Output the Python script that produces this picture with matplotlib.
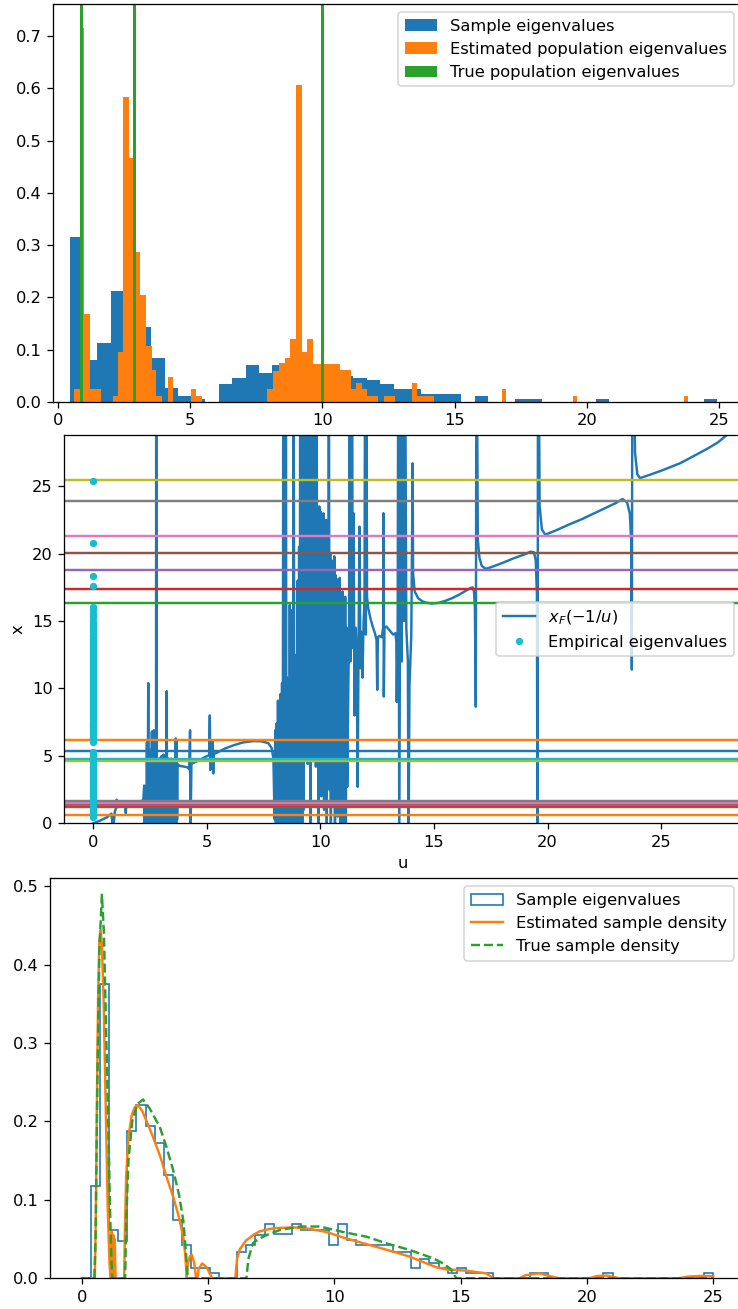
import numpy as np
import matplotlib.pyplot as plt

# ---------------- top: population eigenvalue histograms ----------------
# sample eigenvalues, 48 bins between 0.477 and 24.92 (density heights)
sample_edges = np.linspace(0.477, 24.92, 49)
sample_heights = [0.315, 0.080, 0.113, 0.213, 0.19, 0.143, 0.0835, 0.026, 0.0115, 0.0057,
                  0.0, 0.0344, 0.045, 0.070, 0.0555, 0.070, 0.065, 0.068, 0.070, 0.063,
                  0.050, 0.046, 0.0415, 0.034, 0.0255, 0.0255, 0.016, 0.016, 0.016, 0.0,
                  0.0115, 0.0, 0.0, 0.0057, 0.0057, 0.0, 0.0, 0.0, 0.0, 0.0057,
                  0.0, 0.0, 0.0, 0.0, 0.0, 0.0, 0.0, 0.0057]

# estimated population eigenvalues (bin edges)
est_edges = [0.616, 0.843, 1.006, 1.22, 1.64, 2.10, 2.27, 2.48, 2.70, 2.90,
             3.10, 3.32, 3.55, 3.72, 3.95, 4.18, 4.35, 5.03, 5.21, 5.44,
             7.92, 8.13, 8.35, 8.57, 8.78, 9.00, 9.22, 9.41, 9.64, 10.67,
             11.08, 11.26, 11.50, 11.70, 12.12, 12.33, 12.75, 13.38, 13.59, 14.22,
             16.78, 16.93, 19.49, 19.64, 23.68, 23.83]
est_heights = [0.0255, 0.715, 0.168, 0.0255, 0.0, 0.0115, 0.096, 0.584, 0.467, 0.2875,
               0.204, 0.108, 0.062, 0.0115, 0.0, 0.048, 0.0, 0.0255, 0.0115, 0.0,
               0.025, 0.060, 0.074, 0.0835, 0.120, 0.607, 0.0956, 0.120, 0.0733, 0.061,
               0.025, 0.037, 0.0255, 0.0115, 0.0, 0.0115, 0.0, 0.0363, 0.0115, 0.0,
               0.0255, 0.0, 0.0115, 0.0, 0.0115]

true_pop = [0.9, 2.9, 10.0]

# ---------------- middle: x_F(-1/u) ----------------
xf_u_a = [0.0, 0.3, 0.6, 0.8, 0.84, 0.87, 0.9, 0.95, 1.0, 1.03, 1.05, 1.1, 1.2, 1.3, 1.4,
          1.43, 1.46, 1.6, 1.8, 2.0, 2.2]
xf_x_a = [0.0, 0.2, 0.45, 0.72, 0.0, 0.6, 0.0, 0.9, 1.1, 1.75, 1.2, 1.35, 1.45, 1.5, 1.55,
          0.75, 1.55, 1.6, 1.62, 1.6, 1.7]
xf_u_b = [2.24, 2.26, 2.28, 2.30, 2.32, 2.34, 2.36, 2.38, 2.40, 2.42,
          2.44, 2.46, 2.48, 2.50, 2.52, 2.54, 2.56, 2.58, 2.60, 2.62,
          2.64, 2.66, 2.68, 2.70, 2.72, 2.74, 2.76, 2.77, 2.79, 2.81,
          2.83, 2.85, 2.87, 2.89, 2.91, 2.93, 2.95, 2.97, 2.99, 3.01,
          3.03, 3.05, 3.07, 3.09, 3.11, 3.13, 3.15, 3.17, 3.19, 3.21,
          3.23, 3.25, 3.27, 3.29, 3.31, 3.33, 3.35, 3.37, 3.39, 3.41,
          3.43, 3.45, 3.47, 3.49, 3.51, 3.53, 3.55, 3.57, 3.59, 3.61,
          3.63, 3.65, 3.67, 3.69, 3.71, 3.74, 3.77, 3.80]
xf_x_b = [2.8, 0.0, 2.2, 0.0, 2.5, 0.2, 6.0, 0.0, 3.5, 10.4,
          0.0, 3.2, 0.0, 4.0, 0.3, 5.5, 0.0, 6.8, 0.2, 5.0,
          0.0, 6.9, 0.4, 4.6, 0.0, 5.0, -5.0, 40.0, 0.0, 4.5,
          0.3, 4.8, 0.0, 3.8, 0.2, 4.6, 0.0, 4.9, 0.3, 5.0,
          0.0, 4.3, 0.4, 5.1, 0.0, 4.6, 0.2, 4.4, 0.0, 4.7,
          9.8, 0.0, 3.9, 0.2, 4.8, 0.0, 4.5, 0.3, 4.6, 0.0,
          4.8, 0.2, 4.2, 0.0, 4.7, 0.3, 4.5, 0.0, 4.4, 0.2,
          6.3, 0.0, 6.1, 0.3, 4.4, 4.3, 4.3, 4.25]
xf_u_c = [3.85, 4.0, 4.15, 4.22, 4.26, 4.28, 4.32, 4.5, 4.7, 4.9, 5.1, 5.13, 5.15, 5.2,
          5.26, 5.28, 5.3, 5.4, 5.8, 6.2, 6.6, 7.05, 7.4, 7.7, 7.85, 7.93]
xf_x_c = [4.25, 4.2, 4.15, 4.0, 6.9, -1.0, 4.4, 4.55, 4.7, 4.9, 5.05, 8.0, 3.95, 5.1,
          6.06, 3.7, 5.15, 5.2, 5.55, 5.8, 6.0, 6.1, 6.08, 5.95, 5.6, 4.8]
xf_u_d = [7.98, 8.01, 8.04, 8.07, 8.10, 8.13, 8.16, 8.19, 8.22, 8.25,
          8.28, 8.31, 8.34, 8.37, 8.39, 8.42, 8.45, 8.48, 8.50, 8.53,
          8.56, 8.59, 8.62, 8.65, 8.68, 8.71, 8.74, 8.77, 8.80, 8.82,
          8.85, 8.88, 8.91, 8.94, 8.97, 9.00, 9.03, 9.06, 9.09, 9.11,
          9.14, 9.17, 9.20, 9.23, 9.26, 9.29, 9.32, 9.35, 9.38, 9.41,
          9.44, 9.47, 9.50, 9.53, 9.56, 9.59, 9.62, 9.65, 9.68, 9.71,
          9.74, 9.77, 9.80, 9.83, 9.86, 9.89, 9.92, 9.95, 9.98, 10.01,
          10.04, 10.07, 10.10, 10.13, 10.16, 10.19, 10.22, 10.25, 10.28, 10.31,
          10.34, 10.37, 10.40, 10.43, 10.46, 10.49, 10.52, 10.55, 10.58, 10.61,
          10.64, 10.67, 10.70, 10.73, 10.76, 10.79, 10.82, 10.85, 10.88, 10.91,
          10.94, 10.97, 11.00, 11.03, 11.06, 11.09, 11.12, 11.15, 11.18]
xf_x_d = [0.3, 6.9, 0.0, 7.4, 0.5, 9.1, 0.0, 8.6, 0.2, 9.6,
          0.0, 10.4, 0.4, 40.0, 0.0, 10.7, 0.3, 40.0, 0.0, 10.8,
          0.2, 10.6, 0.0, 16.2, 0.3, 15.8, 0.0, 10.9, 0.5, 40.0,
          0.0, 11.0, 0.2, 12.5, 0.0, 18.0, 0.4, 20.5, 0.0, 40.0,
          0.3, 24.7, 0.0, 40.0, 1.0, 40.0, 4.8, 25.0, 5.5, 40.0,
          4.4, 40.0, 6.2, 24.6, 0.0, 40.0, 5.0, 40.0, 4.6, 24.0,
          6.0, 40.0, 4.2, 40.0, 5.5, 22.8, 0.0, 23.5, 3.8, 23.1,
          2.0, 22.0, 4.5, 23.0, 1.0, 21.7, 3.5, 22.5, 0.0, 21.0,
          4.0, 40.0, 2.5, 20.0, 0.0, 19.5, 3.0, 18.5, 1.5, 19.8,
          0.0, 18.4, 3.2, 18.1, 0.5, 17.0, 2.8, 18.2, 0.0, 16.5,
          3.0, 17.2, 0.0, 15.8, 2.5, 16.8, 0.0, 14.5, 2.7]
xf_u_e = [11.22, 11.26, 11.29, 11.32, 11.36, 11.39, 11.42, 11.46, 11.5, 11.55,
          11.6, 11.64, 11.68, 11.72, 11.76, 11.8, 11.85, 11.9, 11.94, 11.97,
          12.0, 12.02, 12.05, 12.1, 12.2, 12.3, 12.4, 12.47, 12.5, 12.53,
          12.6, 12.7, 12.76, 12.77, 12.79, 12.82, 12.9, 13.0, 13.1, 13.2,
          13.3, 13.34, 13.36, 13.4, 13.43, 13.47, 13.5, 13.55, 13.58, 13.62,
          13.68, 13.72, 13.78, 13.85, 13.88, 13.92, 14.0, 14.06, 14.08, 14.15,
          14.3, 14.5, 14.7, 14.9]
xf_x_e = [9.0, 14.5, 40.0, 12.0, 14.0, 40.0, 13.0, 23.0, 8.0, 14.5,
          12.5, 2.7, 13.8, 22.0, 11.5, 14.2, 10.8, 15.0, 16.5, 40.0,
          14.0, 40.0, 16.8, 16.0, 15.2, 14.6, 14.1, 13.6, 9.9, 13.8,
          13.9, 13.8, 14.5, 23.0, 9.4, 14.5, 14.6, 14.4, 14.2, 14.0,
          14.1, 13.5, 9.0, 14.5, 40.0, -2.0, 14.0, 40.0, 12.0, 40.0,
          15.0, 40.0, 14.5, 12.0, -2.0, 10.2, 14.0, 26.7, 18.5, 17.2,
          16.7, 16.45, 16.35, 16.3]
xf_u_f = [15.2, 15.5, 15.8, 16.1, 16.4, 16.6, 16.7, 16.76, 16.8, 16.84,
          16.87, 16.93, 17.0, 17.1, 17.25, 17.35, 17.6, 18.0, 18.5, 19.0,
          19.25, 19.4, 19.48, 19.53, 19.56, 19.58, 19.65, 19.75, 19.9, 20.4,
          21.0, 21.5, 22.0, 22.5, 23.0, 23.3, 23.5, 23.62, 23.68, 23.71,
          23.74, 23.85, 23.95, 24.07, 24.5, 25.0, 25.83, 26.5, 27.0, 27.5,
          27.89, 28.3]
xf_x_f = [16.35, 16.5, 16.7, 16.95, 17.25, 17.45, 17.5, 17.2, 16.0, 8.65,
          40.0, 21.0, 19.7, 19.1, 18.9, 18.9, 19.05, 19.3, 19.65, 19.95,
          20.15, 20.1, 19.5, 17.0, -5.0, 45.0, 23.5, 21.8, 21.4, 21.75,
          22.2, 22.55, 22.95, 23.35, 23.75, 24.05, 23.8, 23.0, 21.0, 11.4,
          45.0, 27.5, 25.9, 25.6, 25.85, 26.15, 26.7, 27.3, 27.75, 28.25,
          28.8, 29.2]

# edges of the support intervals, in the order they were drawn
support_edges = [0.63, 1.22, 1.30, 1.36, 1.42, 1.48, 1.66, 4.62, 4.77, 5.39,
                 6.16, 16.35, 17.38, 18.82, 20.05, 21.34, 23.91, 25.47]

empirical_eigs = [0.5, 0.6, 0.7, 0.8, 0.9, 1.0, 1.1, 1.2, 1.35, 1.5, 1.65, 1.8, 1.95,
                  2.1, 2.25, 2.4, 2.55, 2.7, 2.85, 3.0, 3.15, 3.3, 3.45, 3.6, 3.75,
                  3.9, 4.05, 4.2, 4.35, 4.5, 4.65, 4.8, 4.95, 5.1, 5.3,
                  6.05, 6.2, 6.35, 6.5, 6.65, 6.8, 6.95, 7.1, 7.25, 7.4, 7.55, 7.7,
                  7.85, 8.0, 8.15, 8.3, 8.45, 8.6, 8.75, 8.9, 9.05, 9.2, 9.35, 9.5,
                  9.65, 9.8, 9.95, 10.1, 10.25, 10.4, 10.55, 10.7, 10.85, 11.0, 11.15,
                  11.3, 11.45, 11.6, 11.75, 11.9, 12.05, 12.2, 12.35, 12.5, 12.65,
                  12.8, 12.95, 13.1, 13.25, 13.4, 13.55, 13.7, 13.85, 14.0, 14.2,
                  14.4, 14.6, 14.8, 15.0, 15.3, 15.55, 15.8, 16.07, 17.6, 18.37,
                  20.77, 25.39]

# ---------------- bottom: sample densities ----------------
step_edges = np.linspace(0.356, 25.0, 69)
step_heights = [0.118, 0.375, 0.061, 0.048, 0.188, 0.221, 0.194, 0.172, 0.1315, 0.0743,
                0.0425, 0.0127, 0.0127, 0.0064, 0.0, 0.0, 0.034, 0.042, 0.055, 0.069,
                0.056, 0.056, 0.069, 0.062, 0.062, 0.062, 0.042, 0.069, 0.049, 0.042,
                0.042, 0.042, 0.042, 0.034, 0.034, 0.0135, 0.025, 0.020, 0.0127, 0.0064,
                0.0127, 0.0064, 0.0064, 0.0064, 0.0, 0.0, 0.0, 0.0, 0.0064, 0.0064,
                0.0, 0.0, 0.0, 0.0, 0.0, 0.0, 0.0064, 0.0, 0.0, 0.0,
                0.0, 0.0, 0.0, 0.0, 0.0, 0.0, 0.0, 0.0064]

est_x = [0.0, 0.52, 0.56, 0.6, 0.65, 0.7, 0.75, 0.8, 0.87, 0.95, 1.03, 1.1, 1.14, 1.17,
         1.19, 1.22, 1.25, 1.28, 1.31, 1.34, 1.68, 1.71, 1.76, 1.85, 1.98, 2.1, 2.23,
         2.4, 2.6, 2.8, 3.09, 3.35, 3.62, 3.85, 4.02, 4.1, 4.16, 4.2, 4.28, 4.36, 4.45,
         4.53, 4.58, 4.63, 4.77, 4.95, 5.1, 5.16, 6.08, 6.15, 6.26, 6.5, 6.78, 7.05,
         7.45, 7.7, 8.37, 9.03, 9.69, 10.35, 11.01, 11.67, 12.33, 12.99, 13.65, 14.05,
         14.44, 15.23, 16.02, 16.29, 17.32, 17.58, 18.11, 18.64, 18.9, 20.1, 20.4,
         20.8, 21.3, 23.6, 24.0, 24.5, 25.0]
est_y = [0.0, 0.0, 0.08, 0.22, 0.36, 0.43, 0.444, 0.425, 0.35, 0.22, 0.09, 0.02, 0.0, 0.0,
         0.06, 0.0, 0.055, 0.0, 0.05, 0.0, 0.0, 0.06, 0.13, 0.18, 0.208, 0.218, 0.221,
         0.213, 0.198, 0.182, 0.157, 0.13, 0.104, 0.078, 0.053, 0.03, 0.0, 0.018, 0.028,
         0.03, 0.02, 0.0, 0.0, 0.012, 0.019, 0.014, 0.004, 0.0, 0.0, 0.025, 0.037, 0.048,
         0.055, 0.060, 0.063, 0.064, 0.065, 0.063, 0.059, 0.052, 0.046, 0.040, 0.034,
         0.0276, 0.019, 0.014, 0.0114, 0.0097, 0.0063, 0.0, 0.0, 0.004, 0.0063, 0.002,
         0.0, 0.0, 0.003, 0.0034, 0.0, 0.0, 0.0022, 0.003, 0.0025]

true_x = [0.0, 0.5, 0.55, 0.62, 0.7, 0.8, 0.88, 0.95, 1.05, 1.12, 1.18, 1.21, 1.72, 1.76,
          1.85, 2.0, 2.2, 2.43, 2.7, 3.09, 3.35, 3.62, 3.85, 4.02, 4.13, 4.18, 4.2, 6.52,
          6.6, 6.78, 7.0, 7.31, 7.84, 8.63, 9.43, 10.35, 11.28, 12.07, 13.0, 13.92,
          14.31, 14.6, 14.75, 14.84, 25.0]
true_y = [0.0, 0.0, 0.05, 0.25, 0.42, 0.489, 0.44, 0.34, 0.2, 0.09, 0.02, 0.0, 0.0, 0.07,
          0.15, 0.2, 0.222, 0.228, 0.216, 0.193, 0.168, 0.138, 0.107, 0.074, 0.032, 0.006,
          0.0, 0.0, 0.025, 0.045, 0.05, 0.055, 0.0615, 0.066, 0.066, 0.059, 0.053, 0.0445,
          0.036, 0.0254, 0.019, 0.012, 0.004, 0.0, 0.0]

DPI = 117
fig = plt.figure(figsize=(738 / DPI, 1309 / DPI), dpi=DPI)

# top panel
ax1 = fig.add_axes([53 / 738, 1 - 402 / 1309, 689 / 738, 398 / 1309])
ax1.hist(sample_edges[:-1], bins=sample_edges, weights=sample_heights,
         label='Sample eigenvalues')
ax1.hist(est_edges[:-1], bins=est_edges, weights=est_heights,
         label='Estimated population eigenvalues')
ax1.bar(true_pop, [1.0] * len(true_pop), width=0.14, color='C2',
        label='True population eigenvalues')
ax1.set_xlim(-0.18, 25.86)
ax1.set_ylim(0, 0.761)
ax1.legend(loc='upper right')

# middle panel
ax2 = fig.add_axes([64 / 738, 1 - 823.3 / 1309, 678 / 738, 388.3 / 1309])
xf_u = np.concatenate([xf_u_a, xf_u_b, xf_u_c, xf_u_d, xf_u_e, xf_u_f])
xf_x = np.concatenate([xf_x_a, xf_x_b, xf_x_c, xf_x_d, xf_x_e, xf_x_f])
ax2.plot(xf_u, xf_x, color='C0', label='$x_F(-1/u)$')
for i, y in enumerate(support_edges):
    ax2.axhline(y, color='C%d' % ((i + 1) % 10))
ax2.plot(np.zeros(len(empirical_eigs)), empirical_eigs, '.', color='C9',
         markersize=7, label='Empirical eigenvalues')
ax2.set_xlim(-1.29, 28.56)
ax2.set_ylim(0, 28.8)
ax2.set_xlabel('u')
ax2.set_ylabel('x')
ax2.legend(loc='center right')

# bottom panel
ax3 = fig.add_axes([50 / 738, 1 - 1278.3 / 1309, 692 / 738, 400 / 1309])
ax3.hist(step_edges[:-1], bins=step_edges, weights=step_heights, histtype='step',
         label='Sample eigenvalues')
ax3.plot(est_x, est_y, color='C1', label='Estimated sample density')
ax3.plot(true_x, true_y, '--', color='C2', label='True sample density')
ax3.set_xlim(-1.255, 26.14)
ax3.set_ylim(0, 0.51)
ax3.legend(loc='upper right')

fig.savefig('out.png', dpi=DPI)
